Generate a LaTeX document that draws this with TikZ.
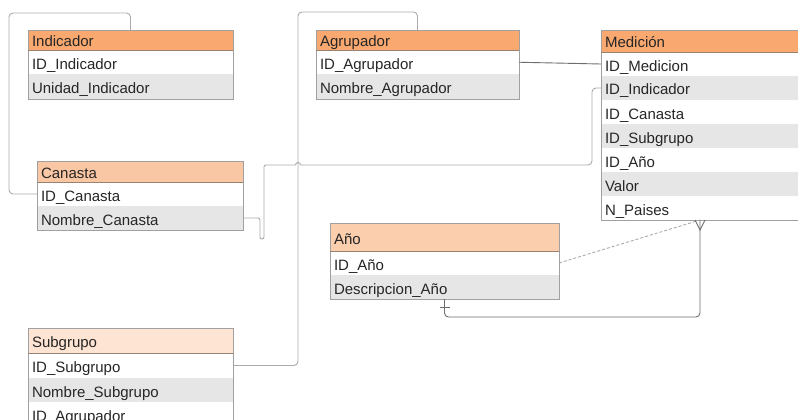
\documentclass[tikz,border=0pt]{standalone}
\usepackage{fontspec}
\setmainfont{Liberation Sans}
\usetikzlibrary{calc}
\definecolor{hdrA}{HTML}{F9A96F}
\definecolor{hdrB}{HTML}{FAC7A4}
\definecolor{hdrC}{HTML}{FBCEAE}
\definecolor{hdrD}{HTML}{FDE4D3}
\definecolor{rowg}{HTML}{E6E6E6}
\definecolor{tborder}{HTML}{A0A0A0}
\definecolor{hline}{HTML}{9A8270}
\definecolor{lnlight}{HTML}{ABABAB}
\definecolor{lndark}{HTML}{6E6E6E}
\tikzset{
  tbl/.style={anchor=north west, inner xsep=4pt, inner ysep=0pt, outer sep=0pt,
    align=left, text height=16pt, text depth=2pt,
    font=\fontsize{15}{18}\selectfont, text=black!85},
  rowh/.style={minimum height=#1},
  tbord/.style={draw=tborder, line width=0.8pt},
  hsep/.style={draw=hline, line width=0.8pt},
  conn/.style={draw=lnlight, line width=0.9pt, rounded corners=4pt},
  rel/.style={draw=lndark, line width=0.9pt},
  reldash/.style={draw=lnlight, line width=0.9pt, dash pattern=on 3pt off 2pt}
}
\begin{document}
\begin{tikzpicture}[x=1pt,y=-1pt]
\clip (0,0) rectangle (798,420);
\fill[white] (0,0) rectangle (798,420);

% Indicador
\node[tbl, rowh=20pt, fill=hdrA, text width=197pt] (indh) at (28,30) {Indicador};
\node[tbl, rowh=24.5pt, fill=white, text width=197pt] (ind1) at (indh.south west) {ID\_Indicador};
\node[tbl, rowh=24.5pt, fill=rowg, text width=197pt] (ind2) at (ind1.south west) {Unidad\_Indicador};
\draw[tbord] (indh.north west) rectangle (ind2.south east);
\draw[hsep] (indh.south west) -- (indh.south east);

% Agrupador
\node[tbl, rowh=20pt, fill=hdrA, text width=195pt] (agrh) at (316,30) {Agrupador};
\node[tbl, rowh=24.5pt, fill=white, text width=195pt] (agr1) at (agrh.south west) {ID\_Agrupador};
\node[tbl, rowh=24.5pt, fill=rowg, text width=195pt] (agr2) at (agr1.south west) {Nombre\_Agrupador};
\draw[tbord] (agrh.north west) rectangle (agr2.south east);
\draw[hsep] (agrh.south west) -- (agrh.south east);

% Medicion
\node[tbl, rowh=22pt, fill=hdrA, text width=202pt] (medh) at (601,30) {Medición};
\node[tbl, rowh=24pt, fill=white, text width=202pt] (med1) at (medh.south west) {ID\_Medicion};
\node[tbl, rowh=24pt, fill=rowg, text width=202pt] (med2) at (med1.south west) {ID\_Indicador};
\node[tbl, rowh=24pt, fill=white, text width=202pt] (med3) at (med2.south west) {ID\_Canasta};
\node[tbl, rowh=24pt, fill=rowg, text width=202pt] (med4) at (med3.south west) {ID\_Subgrupo};
\node[tbl, rowh=24pt, fill=white, text width=202pt] (med5) at (med4.south west) {ID\_Año};
\node[tbl, rowh=24pt, fill=rowg, text width=202pt] (med6) at (med5.south west) {Valor};
\node[tbl, rowh=24pt, fill=white, text width=202pt] (med7) at (med6.south west) {N\_Paises};
\draw[tbord] (medh.north west) rectangle (med7.south east);
\draw[hsep] (medh.south west) -- (medh.south east);

% Canasta
\node[tbl, rowh=21pt, fill=hdrB, text width=198pt] (canh) at (37,161) {Canasta};
\node[tbl, rowh=24pt, fill=white, text width=198pt] (can1) at (canh.south west) {ID\_Canasta};
\node[tbl, rowh=24pt, fill=rowg, text width=198pt] (can2) at (can1.south west) {Nombre\_Canasta};
\draw[tbord] (canh.north west) rectangle (can2.south east);
\draw[hsep] (canh.south west) -- (canh.south east);

% Anio
\node[tbl, rowh=28pt, fill=hdrC, text width=221pt] (anoh) at (330,223) {Año};
\node[tbl, rowh=24pt, fill=white, text width=221pt] (ano1) at (anoh.south west) {ID\_Año};
\node[tbl, rowh=24pt, fill=rowg, text width=221pt] (ano2) at (ano1.south west) {Descripcion\_Año};
\draw[tbord] (anoh.north west) rectangle (ano2.south east);
\draw[hsep] (anoh.south west) -- (anoh.south east);

% Subgrupo
\node[tbl, rowh=25pt, fill=hdrD, text width=197pt] (subh) at (28,328) {Subgrupo};
\node[tbl, rowh=25pt, fill=white, text width=197pt] (sub1) at (subh.south west) {ID\_Subgrupo};
\node[tbl, rowh=24pt, fill=rowg, text width=197pt] (sub2) at (sub1.south west) {Nombre\_Subgrupo};
\node[tbl, rowh=24pt, fill=white, text width=197pt] (sub3) at (sub2.south west) {ID\_Agrupador};
\draw[tbord] (subh.north west) rectangle (sub3.south east);
\draw[hsep] (subh.south west) -- (subh.south east);

% connectors
\draw[conn] (indh.north) -- ++(0,-17) -| ($(can1.west)+(-28,0)$) -- (can1.west);
\draw[conn] (agrh.north) -- ++(0,-18) -| ($(sub1.east)+(65,0)$) -- (sub1.east);

\coordinate (hopL) at (295.5,165);
\coordinate (hopR) at (300.5,165);
\draw[conn, rounded corners=2pt] (can2.east) -- ++(17,0) -- ++(0,21) -- ++(4,0) |- (hopL);
\draw[draw=lnlight, line width=0.9pt] (hopL) arc[start angle=180, end angle=0, radius=2.5pt];
\draw[conn] (hopR) -| ($(med2.west)+(-9,0)$) -- (med2.west);

\draw[rel] (agr1.east) -- (med1.west);

\coordinate (cf) at ($(med7.south west)+(99,0)$);
\draw[reldash] (ano1.east) -- (cf);
\draw[rel, rounded corners=4pt] (ano2.south) |- ($(cf)+(0,97)$) -- (cf);
\draw[rel] ($(cf)+(-5,0)$) -- ($(cf)+(0,10)$) -- ($(cf)+(5,0)$);
\draw[rel] ($(ano2.south)+(-5,8)$) -- ++(10,0);
\end{tikzpicture}
\end{document}
